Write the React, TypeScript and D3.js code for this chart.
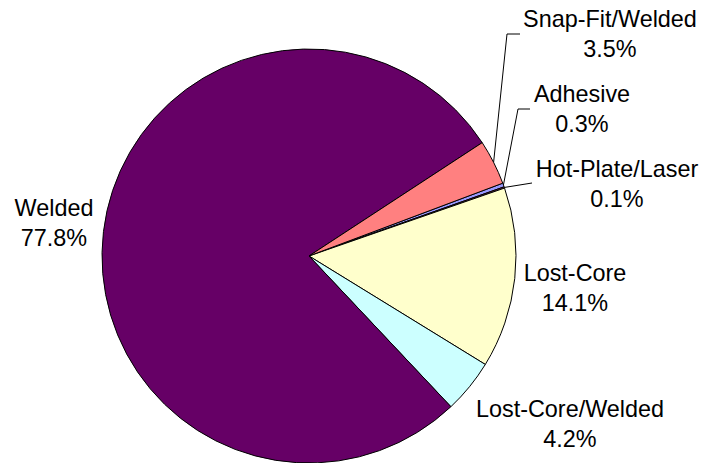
import React from "react";
import * as d3 from "d3";

const categories = ["Adhesive", "Hot-Plate/Laser", "Lost-Core", "Lost-Core/Welded", "Welded", "Snap-Fit/Welded"];
const values = [0.3, 0.1, 14.1, 4.2, 77.8, 3.5];
const labels = ["0.3%", "0.1%", "14.1%", "4.2%", "77.8%", "3.5%"];
const colors = ["#9999FF", "#993366", "#FFFFCC", "#CCFFFF", "#660066", "#FF8080"];

// layout: label anchor (center x, first baseline) and optional leader line path bends
const labelPos: [number, number][] = [
  [582, 102],
  [617, 177],
  [575, 281],
  [570, 417],
  [54, 216],
  [610, 27],
];
const leaderBends: ([number, number][] | null)[] = [
  [[518, 109], [530, 109]],
  [[532, 183]],
  null,
  null,
  null,
  [[507, 34], [520, 34]],
];

const W = 702;
const H = 463;
const cx = 309;
const cy = 256;
const R = 207;
const startDeg = 69.4;
const lineGap = 29.5;
const fontSize = 23.4;

export default function App() {
  const pie = d3
    .pie<number>()
    .sort(null)
    .value((d) => d)
    .startAngle((startDeg * Math.PI) / 180)
    .endAngle((startDeg * Math.PI) / 180 + 2 * Math.PI);
  const arcs = pie(values);
  const arc = d3.arc<d3.PieArcDatum<number>>().innerRadius(0).outerRadius(R);
  const edge = d3.arc<d3.PieArcDatum<number>>().innerRadius(R).outerRadius(R);

  return (
    <svg
      width={W}
      height={H}
      style={{ position: "absolute", left: 0, top: 0, background: "#fff" }}
      fontFamily="'Liberation Sans', Arial, sans-serif"
    >
      <g transform={`translate(${cx},${cy})`}>
        {arcs.map((a, i) => (
          <path key={i} d={arc(a) || ""} fill={colors[i]} stroke="#000" strokeWidth={1} strokeLinejoin="round" />
        ))}
      </g>
      {arcs.map((a, i) => {
        const bends = leaderBends[i];
        if (!bends) return null;
        const mid = (a.startAngle + a.endAngle) / 2;
        const p0: [number, number] = [cx + R * Math.sin(mid), cy - R * Math.cos(mid)];
        const pts = [p0, ...bends];
        return (
          <path
            key={"l" + i}
            d={d3.line()(pts) || ""}
            fill="none"
            stroke="#000"
            strokeWidth={1}
          />
        );
      })}
      {categories.map((c, i) => (
        <text key={"t" + i} x={labelPos[i][0]} y={labelPos[i][1]} textAnchor="middle" fontSize={fontSize} fill="#000">
          <tspan x={labelPos[i][0]}>{c}</tspan>
          <tspan x={labelPos[i][0]} dy={lineGap}>
            {labels[i]}
          </tspan>
        </text>
      ))}
    </svg>
  );
}
